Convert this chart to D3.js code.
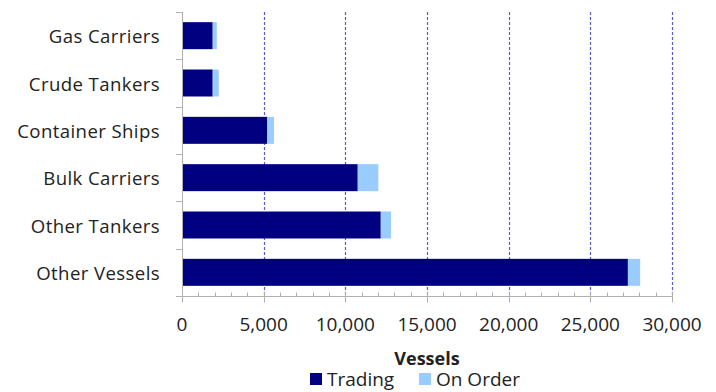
<!DOCTYPE html>
<html>
<head>
<meta charset="utf-8">
<script src="https://cdn.jsdelivr.net/npm/d3@7"></script>
<style>
  html, body { margin: 0; padding: 0; background: #ffffff; }
  svg { display: block; font-family: "Open Sans", Lato, sans-serif; }
</style>
</head>
<body>
<svg id="chart" width="716" height="392"></svg>
<script>
// Fleet composition by vessel type
const categories = ["Gas Carriers", "Crude Tankers", "Container Ships", "Bulk Carriers", "Other Tankers", "Other Vessels"];
const trading = [1880, 1880, 5220, 10760, 12170, 27300];
const onOrder = [250, 370, 410, 1260, 630, 750];
const xTicks = [0, 5000, 10000, 15000, 20000, 25000, 30000];
const seriesNames = ["Trading", "On Order"];
const seriesColors = ["#000080", "#99ccff"];

const svg = d3.select("#chart");
const plot = { left: 182, right: 672, top: 12, bottom: 296 };

const x = d3.scaleLinear().domain([0, 30000]).range([plot.left, plot.right]);
const y = d3.scaleBand().domain(categories).range([plot.top, plot.bottom])
  .paddingInner(0.43).paddingOuter(0.215);

// Vertical dashed gridlines
svg.append("g").selectAll("line")
  .data(xTicks.filter(d => d > 0))
  .join("line")
  .attr("x1", d => Math.round(x(d)) + 0.5).attr("x2", d => Math.round(x(d)) + 0.5)
  .attr("y1", plot.top).attr("y2", plot.bottom)
  .attr("stroke", "#5b5bc8").attr("stroke-width", 1.2)
  .attr("stroke-dasharray", "3,2");

// Stacked bars
const rows = categories.map((c, i) => ({ cat: c, vals: [trading[i], onOrder[i]] }));
const stackData = rows.map(r => {
  let acc = 0;
  return r.vals.map((v, k) => { const s = acc; acc += v; return { cat: r.cat, k, x0: s, x1: acc }; });
}).flat();

svg.append("g").selectAll("rect")
  .data(stackData)
  .join("rect")
  .attr("x", d => x(d.x0))
  .attr("y", d => y(d.cat))
  .attr("width", d => x(d.x1) - x(d.x0))
  .attr("height", y.bandwidth())
  .attr("fill", d => seriesColors[d.k]);

// X axis with major and minor ticks
const axisY = plot.bottom + 0.5;
const axisG = svg.append("g");
axisG.append("line")
  .attr("x1", plot.left).attr("x2", plot.right)
  .attr("y1", axisY).attr("y2", axisY)
  .attr("stroke", "#b0b0b0").attr("stroke-width", 1);
const minorTicks = d3.range(1000, 30000, 1000).filter(v => v % 5000 !== 0);
axisG.selectAll("line.minor")
  .data(minorTicks)
  .join("line").attr("class", "minor")
  .attr("x1", d => Math.round(x(d)) + 0.5).attr("x2", d => Math.round(x(d)) + 0.5)
  .attr("y1", axisY - 4).attr("y2", axisY)
  .attr("stroke", "#b0b0b0");
axisG.selectAll("line.major")
  .data(xTicks)
  .join("line").attr("class", "major")
  .attr("x1", d => Math.round(x(d)) + 0.5).attr("x2", d => Math.round(x(d)) + 0.5)
  .attr("y1", axisY - 5).attr("y2", axisY + 6)
  .attr("stroke", "#b0b0b0");
axisG.selectAll("text")
  .data(xTicks)
  .join("text")
  .attr("x", d => x(d))
  .attr("y", 331)
  .attr("text-anchor", "middle")
  .attr("font-size", 19)
  .attr("fill", "#222222")
  .text(d => d3.format(",")(d));

// Y axis line, category ticks and labels
const yAxisX = plot.left + 0.5;
svg.append("line")
  .attr("x1", yAxisX).attr("x2", yAxisX)
  .attr("y1", plot.top).attr("y2", plot.bottom)
  .attr("stroke", "#b0b0b0");
const step = y.step();
svg.append("g").selectAll("line")
  .data(d3.range(categories.length + 1))
  .join("line")
  .attr("x1", plot.left - 6).attr("x2", plot.left)
  .attr("y1", i => Math.round(plot.top + i * step) + 0.5)
  .attr("y2", i => Math.round(plot.top + i * step) + 0.5)
  .attr("stroke", "#b0b0b0");
svg.append("g").selectAll("text")
  .data(categories)
  .join("text")
  .attr("x", 160)
  .attr("y", d => y(d) + y.bandwidth() / 2 + 7.5)
  .attr("text-anchor", "end")
  .attr("font-size", 18.6)
  .attr("letter-spacing", 0.4)
  .attr("fill", "#222222")
  .text(d => d);

// Axis title
svg.append("text")
  .attr("x", x(15000)).attr("y", 365)
  .attr("text-anchor", "middle")
  .attr("font-size", 18).attr("font-weight", "bold")
  .attr("fill", "#222222")
  .text("Vessels");

// Legend
const legend = svg.append("g");
const legendItems = [{ x: 310, name: seriesNames[0], color: seriesColors[0] }, { x: 419, name: seriesNames[1], color: seriesColors[1] }];
legendItems.forEach(it => {
  legend.append("rect").attr("x", it.x).attr("y", 373).attr("width", 12).attr("height", 12).attr("fill", it.color);
  legend.append("text").attr("x", it.x + 17).attr("y", 386)
    .attr("font-size", 19).attr("fill", "#222222").text(it.name);
});
</script>
</body>
</html>
